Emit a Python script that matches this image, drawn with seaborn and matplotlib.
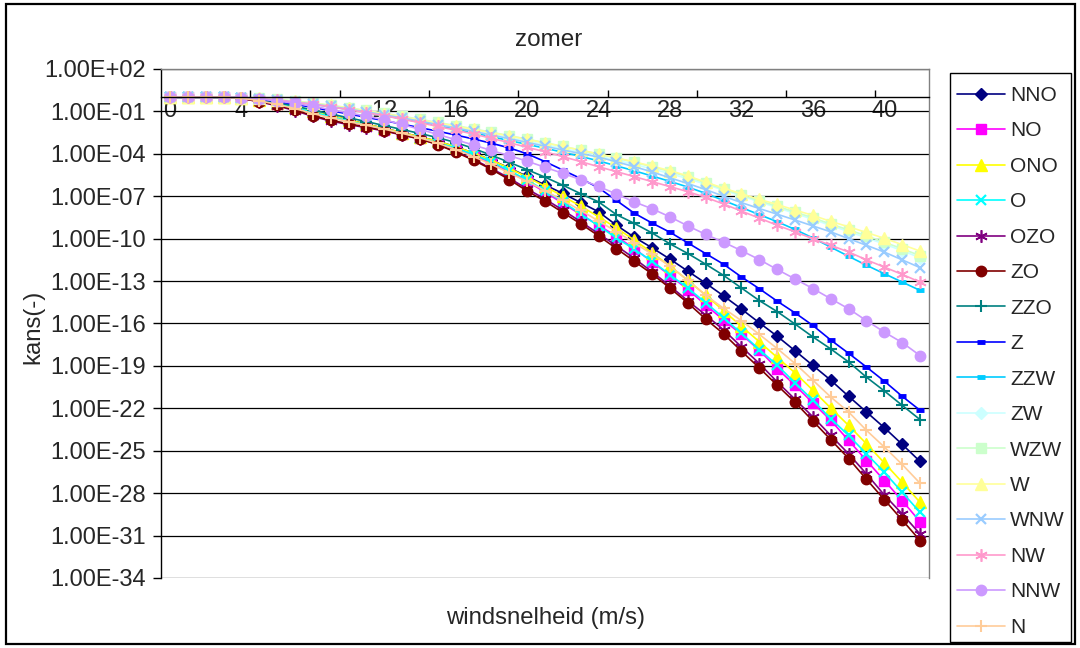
import numpy as np
import pandas as pd
import matplotlib
matplotlib.use("Agg")
import matplotlib.pyplot as plt
from matplotlib.patches import Rectangle
from matplotlib.ticker import FixedLocator, FuncFormatter
import seaborn as sns

# wind speed categories (m/s)
windsnelheid = list(range(0, 43))

# exceedance probabilities, given as log10 exponents
NNO = [0,0,0,0,-0.05,-0.2,-0.42,-0.7,-1.0,-1.3, -1.6,-1.9,-2.2,-2.5,-2.8,-3.12,-3.5,-3.95,-4.45,-5.0,
       -5.6,-6.2,-6.8,-7.45,-8.1,-9.05,-9.9,-10.65,-11.45,-12.3, -13.15,-14.05,-14.98,-15.95,-16.9,-17.93,
       -18.97,-20.01,-21.15,-22.26, -23.37,-24.55,-25.76]
NO = [0,0,0,0,-0.06,-0.22,-0.45,-0.75,-1.08,-1.4, -1.7,-2.0,-2.3,-2.6,-2.9,-3.25,-3.65,-4.1,-4.65,-5.25,
      -5.95,-6.7,-7.5,-8.3,-9.05,-9.85,-10.7,-11.65,-12.6,-13.6, -14.69,-15.76,-16.77,-17.89,-19.19,-20.37,
      -21.62,-22.85,-24.27,-25.69, -27.11,-28.53,-30.02]
ONO = [0,0,0,0,-0.05,-0.2,-0.42,-0.7,-1.0,-1.3, -1.6,-1.9,-2.2,-2.5,-2.8,-3.12,-3.5,-3.95,-4.45,-5.02,
       -5.65,-6.3,-7.0,-7.7,-8.45,-9.25,-10.1,-11.0,-11.95,-12.95, -14.0,-15.1,-16.2,-17.29,-18.4,-19.49,
       -20.72,-21.98,-23.21,-24.51, -25.86,-27.23,-28.65]
O = [0,0,0,0,-0.06,-0.22,-0.45,-0.73,-1.05,-1.37, -1.67,-1.97,-2.27,-2.57,-2.88,-3.22,-3.6,-4.05,-4.58,-5.18,
     -5.85,-6.6,-7.4,-8.25,-9.1,-9.95,-10.75,-11.6,-12.55,-13.5, -14.53,-15.6,-16.7,-17.84,-18.95,-20.2,
     -21.43,-22.73,-23.92,-25.22, -26.52,-27.94,-29.36]
OZO = [0,0,0,0,-0.08,-0.32,-0.6,-0.95,-1.35,-1.68, -1.93,-2.15,-2.38,-2.67,-2.95,-3.33,-3.83,-4.4,-5.03,-5.72,
       -6.48,-7.2,-7.98,-8.8,-9.65,-10.5,-11.4,-12.35,-13.35,-14.4, -15.4,-16.46,-17.65,-18.83,-20.13,-21.36,
       -22.6,-23.92,-25.22,-26.64, -28.13,-29.47,-30.89]
ZO = [0,0,0,0,-0.08,-0.3,-0.55,-0.9,-1.3,-1.62, -1.88,-2.1,-2.35,-2.65,-2.95,-3.35,-3.88,-4.45,-5.1,-5.82,
      -6.63,-7.35,-8.15,-8.95,-9.8,-10.7,-11.6,-12.5,-13.5,-14.55, -15.69,-16.73,-17.96,-19.14,-20.37,-21.57,
      -22.9,-24.22,-25.55,-27.02, -28.46,-29.9,-31.35]
ZZO = [0,0,0,0,-0.05,-0.18,-0.38,-0.62,-0.9,-1.18, -1.45,-1.72,-2.0,-2.28,-2.56,-2.86,-3.2,-3.62,-4.1,-4.6,
       -5.12,-5.65,-6.22,-6.82,-7.4,-8.3,-8.92,-9.6,-10.37,-11.05, -11.81,-12.6,-13.49,-14.38,-15.16,-16.04,
       -16.95,-17.8,-18.72,-19.8, -20.77,-21.79,-22.8]
Z = [0,0,0,0,-0.04,-0.14,-0.3,-0.5,-0.72,-0.95, -1.18,-1.42,-1.65,-1.9,-2.15,-2.4,-2.67,-2.95,-3.25,-3.58,
     -4.0,-4.55,-5.15,-5.75,-6.4,-7.3,-8.2,-8.9,-9.55,-10.3, -11.06,-11.81,-12.71,-13.54,-14.42,-15.25,
     -16.14,-17.17,-18.11,-19.08, -20.08,-21.15,-22.14]
ZZW = [0,0,0,0,-0.02,-0.09,-0.19,-0.33,-0.49,-0.67, -0.86,-1.07,-1.29,-1.52,-1.76,-2.01,-2.26,-2.52,-2.79,-3.06,
       -3.33,-3.6,-3.89,-4.18,-4.5,-4.85,-5.2,-5.57,-5.95,-6.35, -6.8,-7.3,-7.8,-8.3,-8.8,-9.35,
       -9.95,-10.6,-11.25,-11.88, -12.48,-13.07,-13.66]
ZW = [0,0,0,0,-0.02,-0.08,-0.17,-0.29,-0.43,-0.6, -0.79,-0.99,-1.2,-1.42,-1.65,-1.88,-2.11,-2.35,-2.6,-2.85,
      -3.1,-3.36,-3.62,-3.89,-4.16,-4.45,-4.75,-5.07,-5.4,-5.76, -6.15,-6.57,-6.98,-7.4,-7.8,-8.22,
      -8.63,-9.07,-9.5,-9.94, -10.38,-10.85,-11.35]
WZW = [0,0,0,0,-0.02,-0.07,-0.15,-0.26,-0.4,-0.56, -0.74,-0.93,-1.13,-1.34,-1.56,-1.78,-2.0,-2.23,-2.47,-2.71,
       -2.96,-3.21,-3.47,-3.74,-4.02,-4.3,-4.6,-4.92,-5.25,-5.62, -6.05,-6.5,-6.9,-7.32,-7.7,-8.12,
       -8.52,-8.97,-9.38,-9.8, -10.25,-10.72,-11.2]
W = [0,0,0,0,-0.02,-0.08,-0.17,-0.29,-0.42,-0.58, -0.76,-0.96,-1.16,-1.38,-1.6,-1.82,-2.04,-2.27,-2.5,-2.74,
     -2.98,-3.23,-3.48,-3.74,-4.0,-4.28,-4.57,-4.87,-5.19,-5.56, -6.0,-6.43,-6.82,-7.22,-7.58,-7.98,
     -8.35,-8.78,-9.16,-9.56, -9.98,-10.42,-10.88]
WNW = [0,0,0,0,-0.02,-0.09,-0.19,-0.32,-0.47,-0.64, -0.83,-1.03,-1.24,-1.46,-1.69,-1.93,-2.17,-2.42,-2.67,-2.93,
       -3.19,-3.46,-3.73,-3.98,-4.23,-4.56,-4.91,-5.28,-5.7,-6.1, -6.53,-7.0,-7.45,-7.87,-8.27,-8.68,
       -9.1,-9.52,-10.0,-10.47, -10.95,-11.5,-12.05]
NW = [0,0,0,0,-0.02,-0.09,-0.2,-0.34,-0.5,-0.68, -0.88,-1.09,-1.31,-1.55,-1.8,-2.06,-2.33,-2.6,-2.9,-3.21,
      -3.54,-3.85,-4.2,-4.55,-4.91,-5.26,-5.61,-5.97,-6.32,-6.68, -7.08,-7.55,-8.05,-8.55,-9.05,-9.52,
      -10.0,-10.47,-10.94,-11.5, -12.01,-12.53,-13.07]
NNW = [0,0,0,0,-0.03,-0.12,-0.26,-0.43,-0.64,-0.87, -1.1,-1.33,-1.6,-1.92,-2.27,-2.63,-3.0,-3.38,-3.76,-4.13,
       -4.52,-4.95,-5.38,-5.83,-6.3,-6.85,-7.4,-7.89,-8.46,-9.1, -9.7,-10.25,-10.85,-11.48,-12.18,-12.85,
       -13.53,-14.25,-14.96,-15.8, -16.61,-17.35,-18.27]
N = [0,0,0,0,-0.06,-0.25,-0.5,-0.8,-1.15,-1.45, -1.72,-1.98,-2.25,-2.55,-2.87,-3.25,-3.7,-4.2,-4.75,-5.35,
     -5.95,-6.6,-7.3,-8.0,-8.75,-9.5,-10.3,-11.1,-11.95,-12.95, -14.0,-14.93,-15.8,-16.77,-17.77,-18.83,
     -20.01,-21.2,-22.26,-23.56, -24.74,-25.97,-27.3]

series_names = ["NNO", "NO", "ONO", "O", "OZO", "ZO", "ZZO", "Z",
                "ZZW", "ZW", "WZW", "W", "WNW", "NW", "NNW", "N"]
series_values = [NNO, NO, ONO, O, OZO, ZO, ZZO, Z, ZZW, ZW, WZW, W, WNW, NW, NNW, N]

x_tick_labels = ["0", "4", "8", "12", "16", "20", "24", "28", "32", "36", "40"]
y_tick_exponents = [2, -1, -4, -7, -10, -13, -16, -19, -22, -25, -28, -31, -34]

# styling (Excel-like defaults)
asterisk = (6, 2, 0)
styles = {
    "NNO": dict(color="#000080", marker="D", ms=6.5),
    "NO": dict(color="#FF00FF", marker="s", ms=6.5),
    "ONO": dict(color="#FFFF00", marker="^", ms=8),
    "O": dict(color="#00FFFF", marker="x", ms=7, mew=1.6),
    "OZO": dict(color="#800080", marker=asterisk, ms=9, mew=1.2),
    "ZO": dict(color="#800000", marker="o", ms=7.5),
    "ZZO": dict(color="#008080", marker="+", ms=9, mew=1.5),
    "Z": dict(color="#0000FF", marker="_", ms=6, mew=3.5),
    "ZZW": dict(color="#00CCFF", marker="_", ms=6, mew=3.5),
    "ZW": dict(color="#CCFFFF", marker="D", ms=6.5),
    "WZW": dict(color="#CCFFCC", marker="s", ms=6.5),
    "W": dict(color="#FFFF99", marker="^", ms=8),
    "WNW": dict(color="#99CCFF", marker="x", ms=7, mew=1.6),
    "NW": dict(color="#FF99CC", marker=asterisk, ms=9, mew=1.2),
    "NNW": dict(color="#CC99FF", marker="o", ms=7.5),
    "N": dict(color="#FFCC99", marker="+", ms=9, mew=1.5),
}

sns.set_theme(style="white")
plt.rcParams["font.family"] = ["Liberation Sans", "DejaVu Sans"]

fig = plt.figure(figsize=(10.8, 6.48), dpi=100)
W_PX, H_PX = 1080, 648
ax = fig.add_axes([161 / W_PX, 1 - 578 / H_PX, (929 - 161) / W_PX, (578 - 69) / H_PX])

for name, vals in zip(series_names, series_values):
    df = pd.DataFrame({"x": windsnelheid, "kans": np.power(10.0, vals)})
    st = styles[name]
    sns.lineplot(data=df, x="x", y="kans", ax=ax, color=st["color"], marker=st["marker"],
                 markersize=st["ms"], markeredgecolor=st["color"], markerfacecolor=st["color"],
                 markeredgewidth=st.get("mew", 1.0), linewidth=1.2, label=name, legend=False)

ax.set_yscale("log")
ax.set_ylim(1e-34, 1e2)
ax.set_xlim(-0.5, 42.5)

# y axis
ax.yaxis.set_major_locator(FixedLocator([10.0 ** e for e in y_tick_exponents]))
ax.yaxis.set_minor_locator(FixedLocator([]))
ax.yaxis.set_major_formatter(FuncFormatter(lambda v, p: f"{v:.2E}"))
ax.tick_params(axis="y", which="major", direction="out", length=6, width=1, color="black",
               labelsize=17, pad=5, left=True)
ax.grid(axis="y", which="major", color="black", linewidth=0.9)
ax.grid(axis="x", visible=False)

# x axis crossing at 1
ax.spines["bottom"].set_position(("data", 1.0))
ax.spines["bottom"].set_color("black")
ax.spines["bottom"].set_linewidth(1.0)
ax.set_xticks([int(t) for t in x_tick_labels])
ax.set_xticklabels(x_tick_labels)
ax.set_xticks([-0.5 + 5 * k for k in range(1, 9)], minor=True)
ax.tick_params(axis="x", which="major", length=0, labelsize=17, pad=2)
ax.tick_params(axis="x", which="minor", direction="in", length=5, width=1, color="black", bottom=True)
for side in ["top", "right", "left"]:
    ax.spines[side].set_color("#808080")
    ax.spines[side].set_linewidth(1.0)
ax.spines["left"].set_color("black")
ax.set_xlabel("")
ax.set_ylabel("")

# labels
fig.text(549 / W_PX, 1 - 40 / H_PX, "zomer", ha="center", va="center", fontsize=17.5)
fig.text(546 / W_PX, 1 - 618 / H_PX, "windsnelheid (m/s)", ha="center", va="center", fontsize=17.2)
fig.text(33 / W_PX, 1 - 327 / H_PX, "kans(-)", ha="center", va="center", rotation=90, fontsize=17.2)

# legend (frame drawn separately to match the Excel box)
handles, labels = ax.get_legend_handles_labels()
leg = fig.legend(handles, labels, loc="upper left",
                 bbox_to_anchor=(957 / W_PX, 1 - 86 / H_PX), fontsize=15,
                 frameon=False, labelspacing=0.79, handlelength=2.3, handletextpad=0.25,
                 borderpad=0, borderaxespad=0)
fig.patches.append(Rectangle((950 / W_PX, 1 - 642 / H_PX), 121 / W_PX, 569 / H_PX,
                             transform=fig.transFigure, fill=False, edgecolor="black",
                             linewidth=1.0))

# outer chart border
fig.patches.append(Rectangle((6 / W_PX, 4 / H_PX), 1069 / W_PX, 640 / H_PX,
                             transform=fig.transFigure, fill=False, edgecolor="black",
                             linewidth=1.6))

fig.savefig("out.png", dpi=100)
